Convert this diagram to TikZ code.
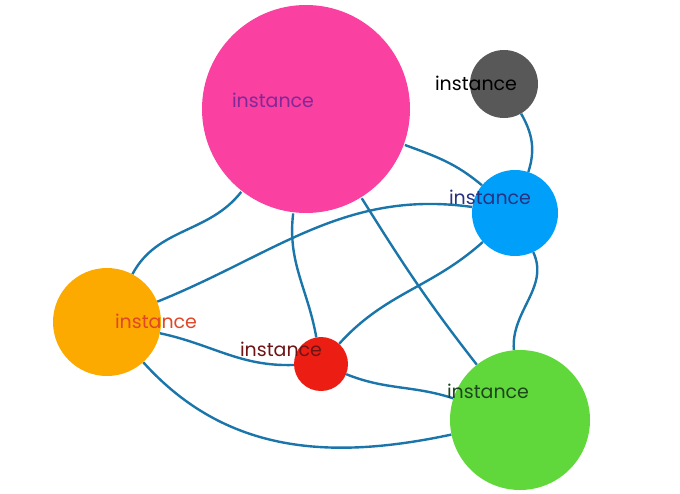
\documentclass[tikz,border=0pt]{standalone}
\usepackage{fontspec}
\setmainfont{Poppins}
\begin{document}
\begin{tikzpicture}[x=1pt,y=1pt,
  ball/.style={circle,inner sep=0pt,draw=none},
  lbl/.style={font=\fontsize{19}{20}\selectfont,inner sep=0pt},
  edge/.style={draw={rgb,255:red,26;green,117;blue,170},line width=2.4pt}]
\useasboundingbox (0,0) rectangle (680,-493);
\definecolor{pink}{RGB}{250,64,160}
\definecolor{gry}{RGB}{88,88,88}
\definecolor{blu}{RGB}{0,160,250}
\definecolor{org}{RGB}{252,170,0}
\definecolor{rd}{RGB}{236,30,20}
\definecolor{grn}{RGB}{96,216,60}
\coordinate (P) at (306,-109);
\coordinate (G) at (504,-84);
\coordinate (B) at (515,-213);
\coordinate (O) at (107,-322);
\coordinate (R) at (321,-364);
\coordinate (N) at (520,-420);
\node[ball,minimum size=210] (p) at (P) {};
\node[ball,minimum size=68] (g) at (G) {};
\node[ball,minimum size=86] (b) at (B) {};
\node[ball,minimum size=108] (o) at (O) {};
\node[ball,minimum size=54] (r) at (R) {};
\node[ball,minimum size=140] (n) at (N) {};
\begin{scope}[every path/.style={edge}]
\draw (p) to[out=-20,in=140] (b);
\draw (p) to[out=-128,in=62] (o);
\draw (p) to[out=-97,in=100] (r);
\draw (p) to[out=-58,in=128] (n);
\draw (g) to[out=-60,in=72] (b);
\draw (b) to[out=172,in=22] (o);
\draw (b) to[out=-138,in=48] (r);
\draw (b) to[out=-65,in=95] (n);
\draw (o) to[out=-12,in=182] (r);
\draw (o) to[out=-48,in=192] (n);
\draw (r) to[out=-22,in=162] (n);
\end{scope}
\fill[pink] (P) circle (104);
\fill[gry] (G) circle (34);
\fill[blu] (B) circle (43);
\fill[org] (O) circle (54);
\fill[rd] (R) circle (27);
\fill[grn] (N) circle (70);
\node[lbl,text={rgb,255:red,130;green,40;blue,150}] (tp) at (273,-100) {instance};
\node[lbl,text=black] (tg) at (476,-83) {instance};
\node[lbl,text={rgb,255:red,40;green,50;blue,130}] (tb) at (490,-197) {instance};
\node[lbl,text={rgb,255:red,225;green,70;blue,40}] (to) at (156,-321) {instance};
\node[lbl,text={rgb,255:red,110;green,20;blue,20}] (tr) at (281,-349) {instance};
\node[lbl,text={rgb,255:red,30;green,70;blue,30}] (tn) at (488,-391) {instance};
\end{tikzpicture}
\end{document}
